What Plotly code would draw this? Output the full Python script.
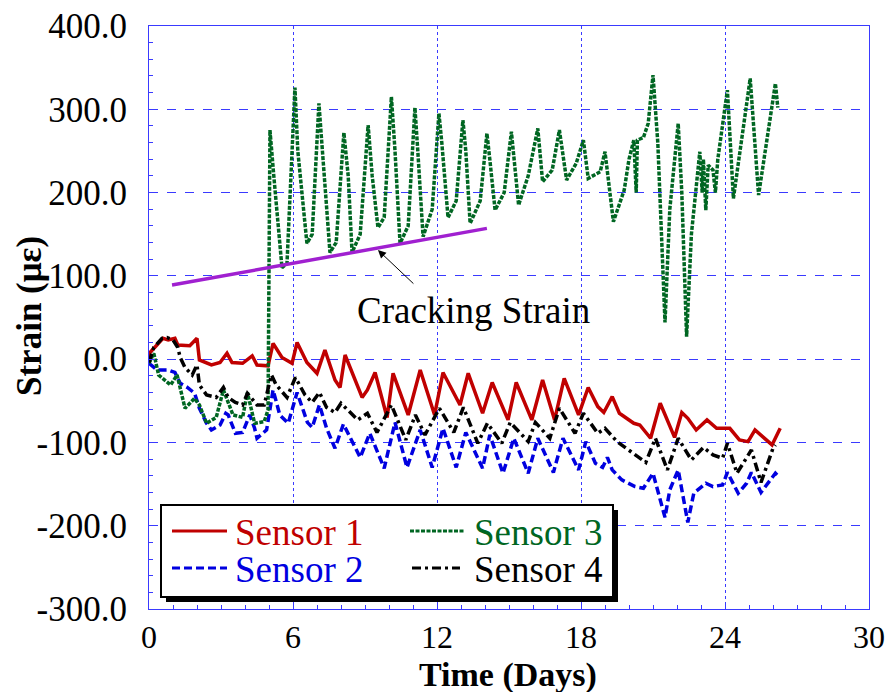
import plotly.graph_objects as go

# ---------------- data ----------------
s1_t = [0.0, 0.04, 0.33, 0.58, 0.8, 1.08, 1.2, 1.7, 2.0, 2.1, 2.6, 2.96, 3.25, 3.46, 3.9, 4.3, 4.5, 4.96,
        5.17, 5.54, 5.96, 6.17, 6.58, 7.0, 7.33, 7.75, 7.96, 8.17, 8.88, 9.1, 9.42, 9.92, 10.17, 10.8,
        11.3, 11.9, 12.25, 12.96, 13.3, 13.9, 14.3, 14.96, 15.3, 15.95, 16.4, 16.9, 17.3, 17.9, 18.3,
        18.7, 18.95, 19.3, 19.6, 20.2, 20.45, 20.9, 21.3, 21.9, 22.2, 22.45, 22.8, 23.25, 23.65, 24.2,
        24.6, 24.96, 25.25, 25.96, 26.3]
s1_v = [0, 8, 17, 25, 23, 25, 17, 16, 25, -1, -7, -4, 7, -4, -5, 4, -7, -8,
        19, 2, -5, 20, -4, -17, 11, -25, -34, 5, -46, -37, -16, -70, -17, -67,
        -13, -67, -16, -55, -17, -65, -28, -73, -28, -73, -25, -73, -23, -67, -34,
        -57, -64, -45, -65, -77, -79, -95, -53, -94, -64, -71, -85, -73, -83, -83,
        -97, -99, -85, -103, -83]

s2_t = [0.0, 0.33, 0.8, 1.08, 1.3, 1.6, 1.9, 2.1, 2.4, 2.6, 2.96, 3.2, 3.3, 3.6, 3.9, 4.2, 4.4, 4.5, 4.9,
        5.17, 5.45, 5.8, 6.17, 6.6, 6.8, 7.1, 7.4, 7.75, 8.1, 8.8, 9.2, 9.8, 10.25, 10.75, 11.3, 11.8,
        12.25, 12.8, 13.2, 13.9, 14.2, 14.75, 15.2, 15.8, 16.2, 16.85, 17.25, 17.9, 18.2, 18.6, 18.9,
        19.1, 19.3, 19.7, 20.25, 20.6, 21.0, 21.5, 21.7, 22.05, 22.45, 22.7, 23.2, 23.5, 23.9, 24.1,
        24.55, 24.9, 25.1, 25.5, 26.1, 26.2]
s2_v = [-5, -13, -13, -16, -29, -34, -41, -59, -77, -85, -79, -65, -67, -89, -88, -67, -83, -95, -85,
        -37, -67, -77, -40, -76, -82, -55, -83, -107, -78, -118, -89, -131, -76, -130, -85, -130,
        -83, -130, -88, -131, -91, -137, -95, -137, -95, -136, -95, -133, -99, -125, -130,
        -118, -133, -145, -153, -155, -137, -190, -157, -133, -196, -161, -149, -153, -151, -136,
        -161, -149, -136, -160, -137, -140]

s3_t = [0.0, 0.2, 0.4, 0.9, 1.17, 1.5, 1.9, 2.1, 2.4, 2.8, 3.1, 3.5, 3.9, 4.1, 4.4, 4.8, 4.96,
        5.0, 5.04, 5.2, 5.54, 5.75, 6.08, 6.2, 6.58, 6.8, 7.08, 7.2, 7.54, 7.8, 8.12, 8.3, 8.46,
        8.8, 9.0, 9.13, 9.3, 9.54, 9.8, 10.1, 10.25, 10.46, 10.8, 11.08, 11.2, 11.42, 11.8, 12.08,
        12.2, 12.46, 12.8, 13.08, 13.2, 13.38, 13.8, 14.08, 14.2, 14.42, 14.8, 15.1, 15.4, 15.8,
        16.2, 16.4, 16.8, 17.1, 17.4, 17.8, 18.1, 18.3, 18.8, 19.0, 19.35, 19.8, 20.0, 20.2, 20.3,
        20.35, 20.6, 20.8, 21.0, 21.2, 21.5, 21.7, 22.05, 22.2, 22.4, 22.6, 22.95, 23.05, 23.1,
        23.2, 23.3, 23.5, 23.6, 23.7, 24.1, 24.35, 25.05, 25.4, 26.1, 26.2]
s3_v = [-5, 7, -19, -31, -19, -59, -47, -55, -77, -70, -37, -67, -70, -40, -77, -75, -61,
        240, 275, 220, 110, 115, 326, 250, 139, 150, 307, 260, 128, 140, 272, 220, 128,
        150, 230, 281, 220, 158, 170, 315, 250, 139, 160, 302, 250, 147, 180, 295,
        260, 170, 190, 287, 250, 163, 190, 271, 240, 179, 200, 273, 185, 220,
        277, 213, 227, 275, 215, 235, 263, 217, 225, 249, 165, 203, 240, 263, 200,
        263, 266, 283, 341, 260, 44, 180, 283, 200, 27, 150, 249, 200, 240,
        179, 233, 227, 200, 240, 323, 193, 337, 197, 331, 302]

s4_t = [0.0, 0.2, 0.54, 0.75, 1.0, 1.2, 1.3, 1.5, 1.8, 2.0, 2.1, 2.4, 2.8, 3.1, 3.3, 3.6, 3.9, 4.1,
        4.5, 4.8, 5.1, 5.3, 5.75, 6.1, 6.5, 6.8, 7.1, 7.4, 7.75, 8.0, 8.7, 9.1, 9.5, 10.1, 10.7,
        11.1, 11.5, 12.1, 12.7, 13.1, 13.7, 14.1, 14.7, 15.05, 15.8, 16.1, 16.7, 17.1, 17.75, 18.1,
        18.7, 19.0, 19.5, 20.1, 20.7, 21.1, 21.6, 22.05, 22.5, 22.6, 23.1, 23.5, 23.9, 24.1, 24.5,
        25.1, 25.5, 26.0, 26.1]
s4_v = [-4, 14, 25, 26, 23, 14, 2, -10, -19, -7, -31, -43, -46, -34, -46, -52, -55, -41,
        -55, -55, -19, -31, -46, -22, -43, -52, -40, -58, -64, -53, -73, -65, -88, -55, -97,
        -67, -91, -59, -88, -58, -101, -77, -101, -76, -99, -76, -95, -59, -89, -65,
        -89, -83, -99, -112, -124, -95, -133, -95, -115, -121, -106, -115, -119, -101, -137,
        -109, -148, -107, -103]

crack_t = [0.96, 14.08]
crack_v = [89, 157]

series_names = ["Sensor 1", "Sensor 2", "Sensor 3", "Sensor 4"]

x_ticks = [0, 6, 12, 18, 24, 30]
y_ticks = [-300, -200, -100, 0, 100, 200, 300, 400]
y_ticktext = ["-300.0", "-200.0", "-100.0", "0.0", "100.0", "200.0", "300.0", "400.0"]

# ---------------- styling ----------------
FONT = "Liberation Serif, Times New Roman, serif"
BLUE = "#3a3aff"
COLORS = ["#c00000", "#0000e0", "#006622", "#000000"]
DASHES = ["solid", "8px,4px", "4px,1.5px", "9px,4px,3px,4px"]
LW = 3.5

# plot area in pixels: x 149..869, y 26..609
def px2x(px):
    return (px - 149) / 720.0

def py2y(py):
    return (609 - py) / 583.0

fig = go.Figure()
for t, v, name, col, dash in zip([s1_t, s2_t, s3_t, s4_t], [s1_v, s2_v, s3_v, s4_v],
                                 series_names, COLORS, DASHES):
    fig.add_trace(go.Scatter(x=t, y=v, mode="lines", name=name, showlegend=False,
                             line=dict(color=col, width=LW, dash=dash)))
fig.add_trace(go.Scatter(x=crack_t, y=crack_v, mode="lines", showlegend=False,
                         line=dict(color="#a020d0", width=3.5)))

fig.add_annotation(x=9.54, y=131, ax=11.08, ay=89, xref="x", yref="y", axref="x", ayref="y",
                   showarrow=True, arrowhead=2, arrowsize=1.6, arrowwidth=1, arrowcolor="black", text="")
fig.add_annotation(x=13.54, y=58, xref="x", yref="y", text="Cracking Strain", showarrow=False,
                   font=dict(family=FONT, size=37, color="black"))

# axis titles
fig.add_annotation(x=px2x(29), y=py2y(316), xref="paper", yref="paper", text="<b>Strain (με)</b>",
                   textangle=-90, showarrow=False, xanchor="center", yanchor="middle",
                   font=dict(family=FONT, size=35, color="black"))
fig.add_annotation(x=px2x(508), y=py2y(675), xref="paper", yref="paper", text="<b>Time (Days)</b>",
                   showarrow=False, xanchor="center", yanchor="middle",
                   font=dict(family=FONT, size=34, color="black"))

# ---- legend box (with drop shadow) ----
fig.add_shape(type="rect", xref="paper", yref="paper",
              x0=px2x(166), x1=px2x(618), y0=py2y(602), y1=py2y(510),
              fillcolor="black", line=dict(width=0), layer="above")
fig.add_shape(type="rect", xref="paper", yref="paper",
              x0=px2x(161), x1=px2x(613), y0=py2y(597), y1=py2y(505),
              fillcolor="white", line=dict(color="black", width=2), layer="above")
legend_pos = [(172, 227, 233, 531), (172, 227, 233, 568), (410, 464, 472, 531), (412, 460, 472, 568)]
for (lx0, lx1, tx, ly), name, col, dash in zip(legend_pos, series_names, COLORS, DASHES):
    fig.add_shape(type="line", xref="paper", yref="paper", x0=px2x(lx0), x1=px2x(lx1),
                  y0=py2y(ly), y1=py2y(ly), line=dict(color=col, width=3, dash=dash), layer="above")
    fig.add_annotation(x=px2x(tx), y=py2y(ly + 1), xref="paper", yref="paper", text=name,
                       showarrow=False, xanchor="left", yanchor="middle",
                       font=dict(family=FONT, size=37, color=col))

fig.update_layout(
    width=891, height=692,
    margin=dict(l=149, r=22, t=26, b=83),
    paper_bgcolor="white", plot_bgcolor="white",
    font=dict(family=FONT, size=35, color="black"),
    showlegend=False,
)

fig.update_xaxes(range=[0, 30], tickvals=x_ticks, ticks="inside", ticklen=6, tickcolor=BLUE,
                 showline=True, linecolor=BLUE, linewidth=1, mirror=True, automargin=False,
                 showgrid=True, gridcolor=BLUE, griddash="dot", gridwidth=1, zeroline=False,
                 tickfont=dict(family=FONT, size=32), ticklabelstandoff=0,
                 minor=dict(dtick=1, ticks="inside", ticklen=4, tickcolor=BLUE, showgrid=False))
fig.update_yaxes(range=[-300, 400], tickvals=y_ticks, ticktext=y_ticktext, ticks="inside", ticklen=6,
                 tickcolor=BLUE, showline=True, linecolor=BLUE, linewidth=1, mirror=True, automargin=False,
                 showgrid=True, gridcolor=BLUE, griddash="dash", gridwidth=1, zeroline=False,
                 tickfont=dict(family=FONT, size=35), ticklabelstandoff=14,
                 minor=dict(dtick=20, ticks="inside", ticklen=4, tickcolor=BLUE, showgrid=False))

fig.write_html("out.html")
